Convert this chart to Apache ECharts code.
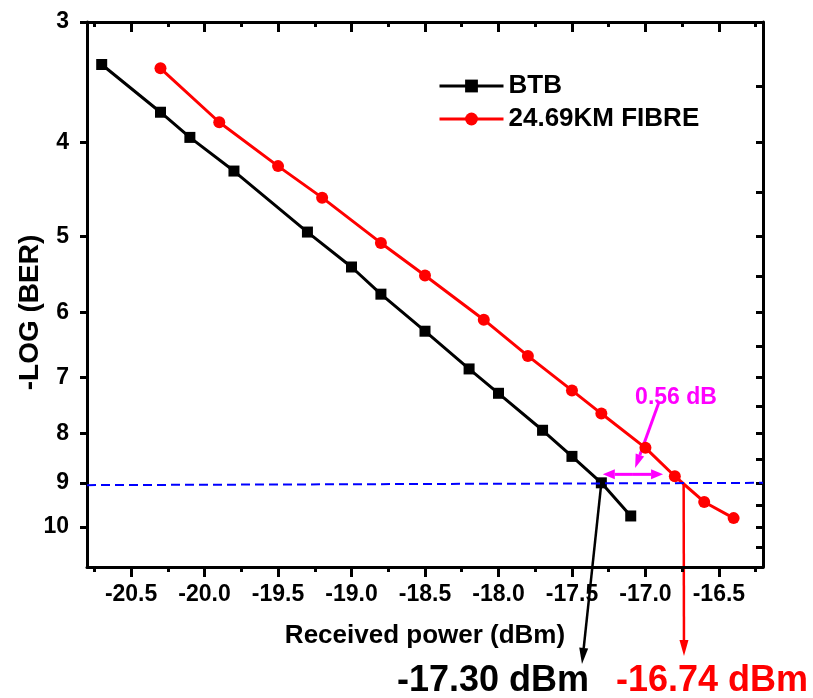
<!DOCTYPE html>
<html>
<head>
<meta charset="utf-8">
<script src="https://cdn.jsdelivr.net/npm/echarts@6/dist/echarts.min.js"></script>
<style>
html, body { margin: 0; padding: 0; background: #fff; }
#chart { width: 813px; height: 698px; }
</style>
</head>
<body>
<div id="chart"></div>
<script>
// received power (dBm) and -log(BER)
var btbPower = [-20.7, -20.3, -20.1, -19.8, -19.3, -19.0, -18.8, -18.5, -18.2, -18.0, -17.7, -17.5, -17.3, -17.1];
var btbBer = [3.32, 3.72, 3.95, 4.28, 4.95, 5.38, 5.74, 6.27, 6.86, 7.27, 7.94, 8.45, 9.0, 9.74];
var fibrePower = [-20.3, -19.9, -19.5, -19.2, -18.8, -18.5, -18.1, -17.8, -17.5, -17.3, -17.0, -16.8, -16.6, -16.4];
var fibreBer = [3.35, 3.81, 4.23, 4.56, 5.08, 5.49, 6.10, 6.65, 7.22, 7.63, 8.28, 8.86, 9.42, 9.79];

var xTicks = [-20.5, -20.0, -19.5, -19.0, -18.5, -18.0, -17.5, -17.0, -16.5];
var xMinorTicks = [-20.75, -20.5, -20.25, -20.0, -19.75, -19.5, -19.25, -19.0, -18.75, -18.5, -18.25, -18.0,
    -17.75, -17.5, -17.25, -17.0, -16.75, -16.5, -16.25];
var yTicks = [3, 4, 5, 6, 7, 8, 9, 10];
var yRightTicks = [3, 3.5, 4, 4.5, 5, 5.5, 6, 6.5, 7, 7.5, 8, 8.5, 9, 9.5, 10, 10.5];

var xMin = -20.8, xMax = -16.2;
var yMin = 3, yMax = 11;
var sensBtb = -17.30, sensFibre = -16.74, berLine = 9.0;

var FONT = '"Liberation Sans", Arial, sans-serif';
var black = '#000000', red = '#ff0000', magenta = '#ff00ff', blue = '#0000ff';

var chart = echarts.init(document.getElementById('chart'));

function xAxisOf(pos, ticks, len, showLine, showLabel) {
    return {
        type: 'value', position: pos, min: xMin, max: xMax,
        axisLine: { show: showLine, onZero: false, lineStyle: { color: black, width: 3 } },
        axisTick: { show: true, inside: pos === 'top', customValues: ticks, length: len, lineStyle: { color: black, width: 3 } },
        axisLabel: {
            show: showLabel, customValues: xTicks, margin: 16, color: black,
            fontFamily: FONT, fontWeight: 'bold', fontSize: 23,
            formatter: function (v) { return Number(v).toFixed(1); }
        },
        splitLine: { show: false }
    };
}

// log scale for -log(BER); companion axes carry ticks at 3..10
var lo = Math.log10(yMin), hi = Math.log10(yMax);

var option = {
    animation: false,
    backgroundColor: '#fff',
    grid: { left: 87, right: 50, top: 22, bottom: 131, outerBoundsMode: 'none', containLabel: false },
    legend: {
        orient: 'vertical', left: 433, top: 68, itemWidth: 64, itemHeight: 16, itemGap: 7,
        data: ['BTB', '24.69KM FIBRE'],
        lineStyle: { width: 3 },
        textStyle: { color: black, fontFamily: FONT, fontWeight: 'bold', fontSize: 26 }
    },
    xAxis: [
        Object.assign(xAxisOf('bottom', xTicks, 10, true, true), {
            name: 'Received power (dBm)', nameLocation: 'middle', nameGap: 56, nameMoveOverlap: false,
            nameTextStyle: { color: black, fontFamily: FONT, fontWeight: 'bold', fontSize: 26 }
        }),
        xAxisOf('bottom', xMinorTicks, 5, false, false),
        xAxisOf('top', xTicks, 10, true, false),
        xAxisOf('top', xMinorTicks, 5, false, false)
    ],
    yAxis: [
        { type: 'log', logBase: 10, min: yMin, max: yMax, inverse: true, show: false },
        {
            type: 'value', position: 'left', inverse: true, min: lo, max: hi,
            name: '-LOG (BER)', nameLocation: 'middle', nameGap: 43, nameRotate: 90, nameMoveOverlap: false,
            nameTextStyle: { color: black, fontFamily: FONT, fontWeight: 'bold', fontSize: 28, padding: [0, 36, 0, 0] },
            axisLine: { show: true, onZero: false, lineStyle: { color: black, width: 3 } },
            axisTick: { show: true, customValues: yTicks.map(Math.log10), length: 7, lineStyle: { color: black, width: 3 } },
            axisLabel: {
                customValues: yTicks.map(Math.log10), margin: 18, color: black,
                fontFamily: FONT, fontWeight: 'bold', fontSize: 23,
                formatter: function (v) { return String(Math.round(Math.pow(10, v))); }
            },
            splitLine: { show: false }
        },
        {
            type: 'value', position: 'right', inverse: true, min: lo, max: hi,
            axisLine: { show: true, onZero: false, lineStyle: { color: black, width: 3 } },
            axisTick: { show: true, inside: true, customValues: yRightTicks.map(Math.log10), length: 7, lineStyle: { color: black, width: 3 } },
            axisLabel: { show: false },
            splitLine: { show: false }
        }
    ],
    series: [
        {
            name: 'BTB', type: 'line', xAxisIndex: 0, yAxisIndex: 0,
            data: btbPower.map(function (p, i) { return [p, btbBer[i]]; }),
            symbol: 'rect', symbolSize: 11,
            itemStyle: { color: black },
            lineStyle: { color: black, width: 3 },
            markLine: {
                silent: true, symbol: 'none', label: { show: false },
                lineStyle: { color: blue, width: 2, type: [9, 5] },
                data: [[{ coord: [xMin, 9.05] }, { coord: [xMax, berLine] }]]
            }
        },
        {
            name: '24.69KM FIBRE', type: 'line', xAxisIndex: 0, yAxisIndex: 0,
            data: fibrePower.map(function (p, i) { return [p, fibreBer[i]]; }),
            symbol: 'circle', symbolSize: 12,
            itemStyle: { color: red },
            lineStyle: { color: red, width: 3 }
        }
    ]
};
chart.setOption(option);

function px(x, y) { return chart.convertToPixel({ seriesIndex: 0 }, [x, y]); }

function arrow(p0, p1, color, w, hl, hw) {
    var dx = p1[0] - p0[0], dy = p1[1] - p0[1];
    var L = Math.sqrt(dx * dx + dy * dy), ux = dx / L, uy = dy / L;
    var bx = p1[0] - ux * hl, by = p1[1] - uy * hl;
    return [
        { type: 'line', silent: true, shape: { x1: p0[0], y1: p0[1], x2: bx, y2: by }, style: { stroke: color, lineWidth: w } },
        { type: 'polygon', silent: true, shape: { points: [[p1[0], p1[1]], [bx - uy * hw, by + ux * hw], [bx + uy * hw, by - ux * hw]] }, style: { fill: color } }
    ];
}

var g = [];
// sensitivity arrows down to the labels
g = g.concat(arrow(px(sensBtb, berLine), [582, 664], black, 2.5, 16, 4.5));
g = g.concat(arrow(px(sensFibre, berLine), [684, 656], red, 2.5, 16, 4.5));
// power penalty double arrow
var a = px(-17.29, 8.82), b = px(-16.88, 8.82);
var mid = [(a[0] + b[0]) / 2, a[1]];
g = g.concat(arrow(mid, a, magenta, 3, 12, 5));
g = g.concat(arrow(mid, b, magenta, 3, 12, 5));
g = g.concat(arrow(px(-16.91, 7.44), px(-17.07, 8.69), magenta, 3, 14, 4.5));

g.push({ type: 'text', silent: true, x: 493, y: 681,
    style: { text: sensBtb.toFixed(2) + ' dBm', fill: black, font: 'bold 36px ' + FONT, align: 'center', verticalAlign: 'middle' } });
g.push({ type: 'text', silent: true, x: 712, y: 681,
    style: { text: sensFibre.toFixed(2) + ' dBm', fill: red, font: 'bold 36px ' + FONT, align: 'center', verticalAlign: 'middle' } });
g.push({ type: 'text', silent: true, x: 676, y: 398,
    style: { text: (sensFibre - sensBtb).toFixed(2) + ' dB', fill: magenta, font: 'bold 23px ' + FONT, align: 'center', verticalAlign: 'middle' } });

chart.setOption({ graphic: g });
</script>
</body>
</html>
